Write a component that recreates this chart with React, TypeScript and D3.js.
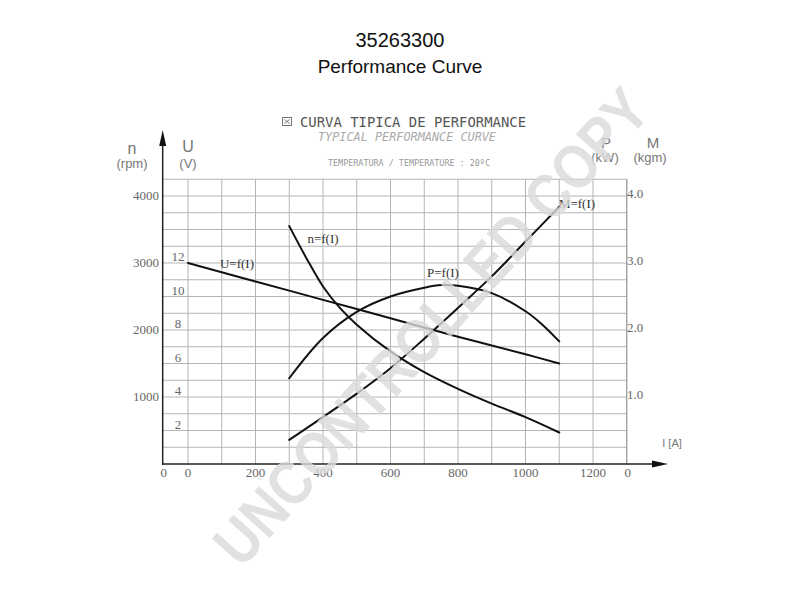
import React from "react";
import * as d3 from "d3";

// ---- data ----
const currentTicks = [0, 200, 400, 600, 800, 1000, 1200];
const rpmTicks = [1000, 2000, 3000, 4000];
const voltTicks = [2, 4, 6, 8, 10, 12];
const powerTicks = [1.0, 2.0, 3.0, 4.0];

const uCurrent = [0, 200, 400, 600, 800, 1000, 1100];
const uVolt = [12, 10.9, 9.8, 8.7, 7.6, 6.55, 6.0];

const nCurrent = [300, 350, 400, 450, 500, 600, 700, 800, 900, 1000, 1100];
const nRpm = [3550, 3080, 2650, 2330, 2080, 1680, 1370, 1120, 900, 700, 470];

const pCurrent = [300, 400, 500, 600, 700, 750, 800, 900, 1000, 1050, 1100];
const pPower = [1.28, 1.88, 2.27, 2.5, 2.63, 2.67, 2.66, 2.55, 2.28, 2.08, 1.83];

const mCurrent = [300, 400, 500, 600, 700, 800, 900, 1000, 1100];
const mTorque = [0.36, 0.7, 1.05, 1.43, 1.87, 2.33, 2.8, 3.32, 3.84];

const curveLabels = ["U=f(I)", "n=f(I)", "P=f(I)", "M=f(I)"];

export default function App() {
  const x = d3.scaleLinear().domain([0, 1200]).range([188, 593]);
  const yRpm = d3.scaleLinear().domain([0, 4000]).range([464, 196]);
  const yU = d3.scaleLinear().domain([0, 12]).range([464, 263]);
  const yP = d3.scaleLinear().domain([0, 4]).range([464, 196]);

  const xLeft = x(-75);
  const xRight = x(1300);
  const yTop = yRpm(4250);
  const yBot = yRpm(0);

  const vLines = d3.range(0, 1301, 100);
  const hLines = d3.range(250, 4251, 250);

  const mk = (xs: number[], ys: number[], ys2: (v: number) => number) =>
    d3
      .line<number>()
      .x((_, i) => x(xs[i]))
      .y((d) => ys2(d))
      .curve(d3.curveCatmullRom.alpha(0.5))(ys) as string;

  const uPath = mk(uCurrent, uVolt, yU);
  const nPath = mk(nCurrent, nRpm, yRpm);
  const pPath = mk(pCurrent, pPower, yP);
  const mPath = mk(mCurrent, mTorque, yP);

  const serif = "'Liberation Serif', 'DejaVu Serif', serif";
  const sans = "'Liberation Sans', Arial, sans-serif";
  const mono = "'DejaVu Sans Mono', 'Liberation Mono', monospace";
  const gridColor = "#b4b4b4";
  const tickColor = "#666";

  return (
    <svg
      width={800}
      height={600}
      viewBox="0 0 800 600"
      style={{ position: "absolute", left: 0, top: 0, background: "#fff" }}
    >
      <rect x={0} y={0} width={800} height={600} fill="#fff" />
      {/* Titles */}
      <text x={400} y={47} textAnchor="middle" fontFamily={sans} fontSize={20} fill="#111">
        35263300
      </text>
      <text x={400} y={73} textAnchor="middle" fontFamily={sans} fontSize={19} fill="#111">
        Performance Curve
      </text>

      {/* header */}
      <rect x={282.5} y={117.5} width={9} height={8} fill="none" stroke="#777" strokeWidth={1} />
      <path d="M284.5,119.5 L289.5,123.5 M289.5,119.5 L284.5,123.5" stroke="#777" strokeWidth={1} />
      <text x={300} y={127} fontFamily={mono} fontSize={14} fill="#555" textLength={226} lengthAdjust="spacingAndGlyphs">
        CURVA TIPICA DE PERFORMANCE
      </text>
      <text x={318} y={141} fontFamily={mono} fontSize={12} fontStyle="italic" fill="#aaa" textLength={178} lengthAdjust="spacingAndGlyphs">
        TYPICAL PERFORMANCE CURVE
      </text>
      <text x={328} y={166} fontFamily={mono} fontSize={8.5} fill="#999" textLength={162} lengthAdjust="spacingAndGlyphs">
        TEMPERATURA / TEMPERATURE : 20ºC
      </text>

      {/* grid */}
      <g stroke={gridColor} strokeWidth={1}>
        {vLines.map((v) => (
          <line key={"v" + v} x1={x(v)} x2={x(v)} y1={yTop} y2={yBot} />
        ))}
        {hLines.map((h) => (
          <line key={"h" + h} x1={xLeft} x2={xRight} y1={yRpm(h)} y2={yRpm(h)} />
        ))}
      </g>
      <line x1={xRight} x2={xRight} y1={yTop} y2={yBot} stroke="#999" strokeWidth={1} />

      {/* axes */}
      <line x1={xLeft} x2={xLeft} y1={140} y2={yBot + 1} stroke="#222" strokeWidth={1.5} />
      <path d={`M${xLeft},130 L${xLeft - 3.5},146 L${xLeft + 3.5},146 Z`} fill="#111" />
      <line x1={xLeft} x2={657} y1={yBot} y2={yBot} stroke="#222" strokeWidth={1.5} />
      <path d={`M668,${yBot} L652,${yBot - 3.5} L652,${yBot + 3.5} Z`} fill="#111" />

      {/* axis titles */}
      <g fontFamily={sans} fill="#777">
        <text x={132} y={154} textAnchor="middle" fontSize={16}>n</text>
        <text x={132} y={168} textAnchor="middle" fontSize={13}>(rpm)</text>
        <text x={188} y={152} textAnchor="middle" fontSize={16}>U</text>
        <text x={188} y={168} textAnchor="middle" fontSize={13}>(V)</text>
        <text x={606} y={148} textAnchor="middle" fontSize={15}>P</text>
        <text x={653} y={148} textAnchor="middle" fontSize={15}>M</text>
        <text x={605} y={162} textAnchor="middle" fontSize={13}>(kW)</text>
        <text x={650} y={162} textAnchor="middle" fontSize={13}>(kgm)</text>
        <text x={672} y={447} textAnchor="middle" fontSize={11}>I  [A]</text>
      </g>

      {/* tick labels */}
      <g fontFamily={serif} fontSize={13} fill={tickColor}>
        {rpmTicks.map((t) => (
          <text key={"r" + t} x={159} y={yRpm(t) + 4} textAnchor="end">{t}</text>
        ))}
        {voltTicks.map((t) => (
          <text key={"u" + t} x={178} y={yU(t) - 2} textAnchor="middle">{t}</text>
        ))}
        {powerTicks.map((t) => (
          <text key={"p" + t} x={627} y={yP(t) + 2} textAnchor="start">{t.toFixed(1)}</text>
        ))}
        {currentTicks.map((t) => (
          <text key={"c" + t} x={x(t)} y={477} textAnchor="middle">{t}</text>
        ))}
        <text x={xLeft + 1} y={477} textAnchor="middle">0</text>
        <text x={xRight + 1} y={477} textAnchor="middle">0</text>
      </g>

      {/* curves */}
      <g fill="none" stroke="#111" strokeWidth={2} strokeLinecap="round">
        <path d={uPath} />
        <path d={nPath} />
        <path d={pPath} />
        <path d={mPath} />
      </g>

      {/* curve labels */}
      <g fontFamily={serif} fontSize={13} fill="#333">
        <text x={237} y={268} textAnchor="middle">{curveLabels[0]}</text>
        <text x={323} y={243} textAnchor="middle">{curveLabels[1]}</text>
        <text x={443} y={277} textAnchor="middle">{curveLabels[2]}</text>
        <text x={577} y={208} textAnchor="middle">{curveLabels[3]}</text>
      </g>

      {/* watermark */}
      <text
        x={0}
        y={0}
        transform="translate(435,330) rotate(-48)"
        textAnchor="middle"
        dominantBaseline="middle"
        fontFamily={sans}
        fontWeight="bold"
        fontSize={62}
        fill="#dadada"
        fillOpacity={0.8}
        textLength={615}
        lengthAdjust="spacingAndGlyphs"
      >
        UNCONTROLLED COPY
      </text>
    </svg>
  );
}
